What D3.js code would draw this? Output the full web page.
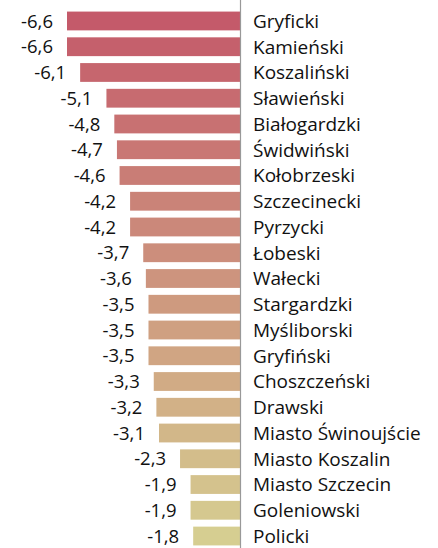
<!DOCTYPE html>
<html>
<head>
<meta charset="utf-8">
<script src="https://d3js.org/d3.v7.min.js"></script>
<style>
  body { margin: 0; background: #fff; }
  text { font-family: "Open Sans", sans-serif; fill: #111; }
</style>
</head>
<body>
<svg></svg>
<script>
var names = ["Gryficki", "Kamieński", "Koszaliński", "Sławieński", "Białogardzki",
  "Świdwiński", "Kołobrzeski", "Szczecinecki", "Pyrzycki", "Łobeski", "Wałecki",
  "Stargardzki", "Myśliborski", "Gryfiński", "Choszczeński", "Drawski",
  "Miasto Świnoujście", "Miasto Koszalin", "Miasto Szczecin", "Goleniowski", "Policki"];
var values = [-6.6, -6.6, -6.1, -5.1, -4.8, -4.7, -4.6, -4.2, -4.2, -3.7, -3.6,
  -3.5, -3.5, -3.5, -3.3, -3.2, -3.1, -2.3, -1.9, -1.9, -1.8];

var svgWidth = 438, svgHeight = 548;
var axisX = 240.5;

var svg = d3.select("svg")
  .attr("width", svgWidth)
  .attr("height", svgHeight);

var xScale = d3.scaleLinear()
  .domain([0, -6.6])
  .range([axisX, 67]);

var yScale = d3.scaleBand()
  .domain(names)
  .range([9, 548])
  .paddingInner(0.27)
  .paddingOuter(0.1);

// colour goes by rank, top to bottom
var colorScale = d3.scaleLinear()
  .domain([0, names.length - 1])
  .range(["#c45a6a", "#d6ce91"]);

var fmt = function(d) { return d3.format(".1f")(d).replace(".", ",").replace("−", "-"); };

svg.selectAll("rect")
  .data(values)
  .enter()
  .append("rect")
  .attr("x", function(d) { return xScale(d); })
  .attr("y", function(d, i) { return yScale(names[i]); })
  .attr("width", function(d) { return axisX - xScale(d); })
  .attr("height", yScale.bandwidth())
  .attr("fill", function(d, i) { return colorScale(i); });

svg.selectAll("text.val")
  .data(values)
  .enter()
  .append("text")
  .attr("class", "val")
  .attr("x", function(d) { return xScale(d) - 14; })
  .attr("y", function(d, i) { return yScale(names[i]) + yScale.bandwidth() / 2; })
  .attr("dy", "0.36em")
  .attr("text-anchor", "end")
  .style("font-size", "18.5px")
  .text(fmt);

svg.selectAll("text.name")
  .data(names)
  .enter()
  .append("text")
  .attr("class", "name")
  .attr("x", 253)
  .attr("y", function(d) { return yScale(d) + yScale.bandwidth() / 2; })
  .attr("dy", "0.36em")
  .style("font-size", "19px")
  .text(function(d) { return d; });

svg.append("line")
  .attr("x1", axisX).attr("x2", axisX)
  .attr("y1", 0).attr("y2", svgHeight)
  .attr("stroke", "#999")
  .attr("stroke-width", 1.2);
</script>
</body>
</html>
